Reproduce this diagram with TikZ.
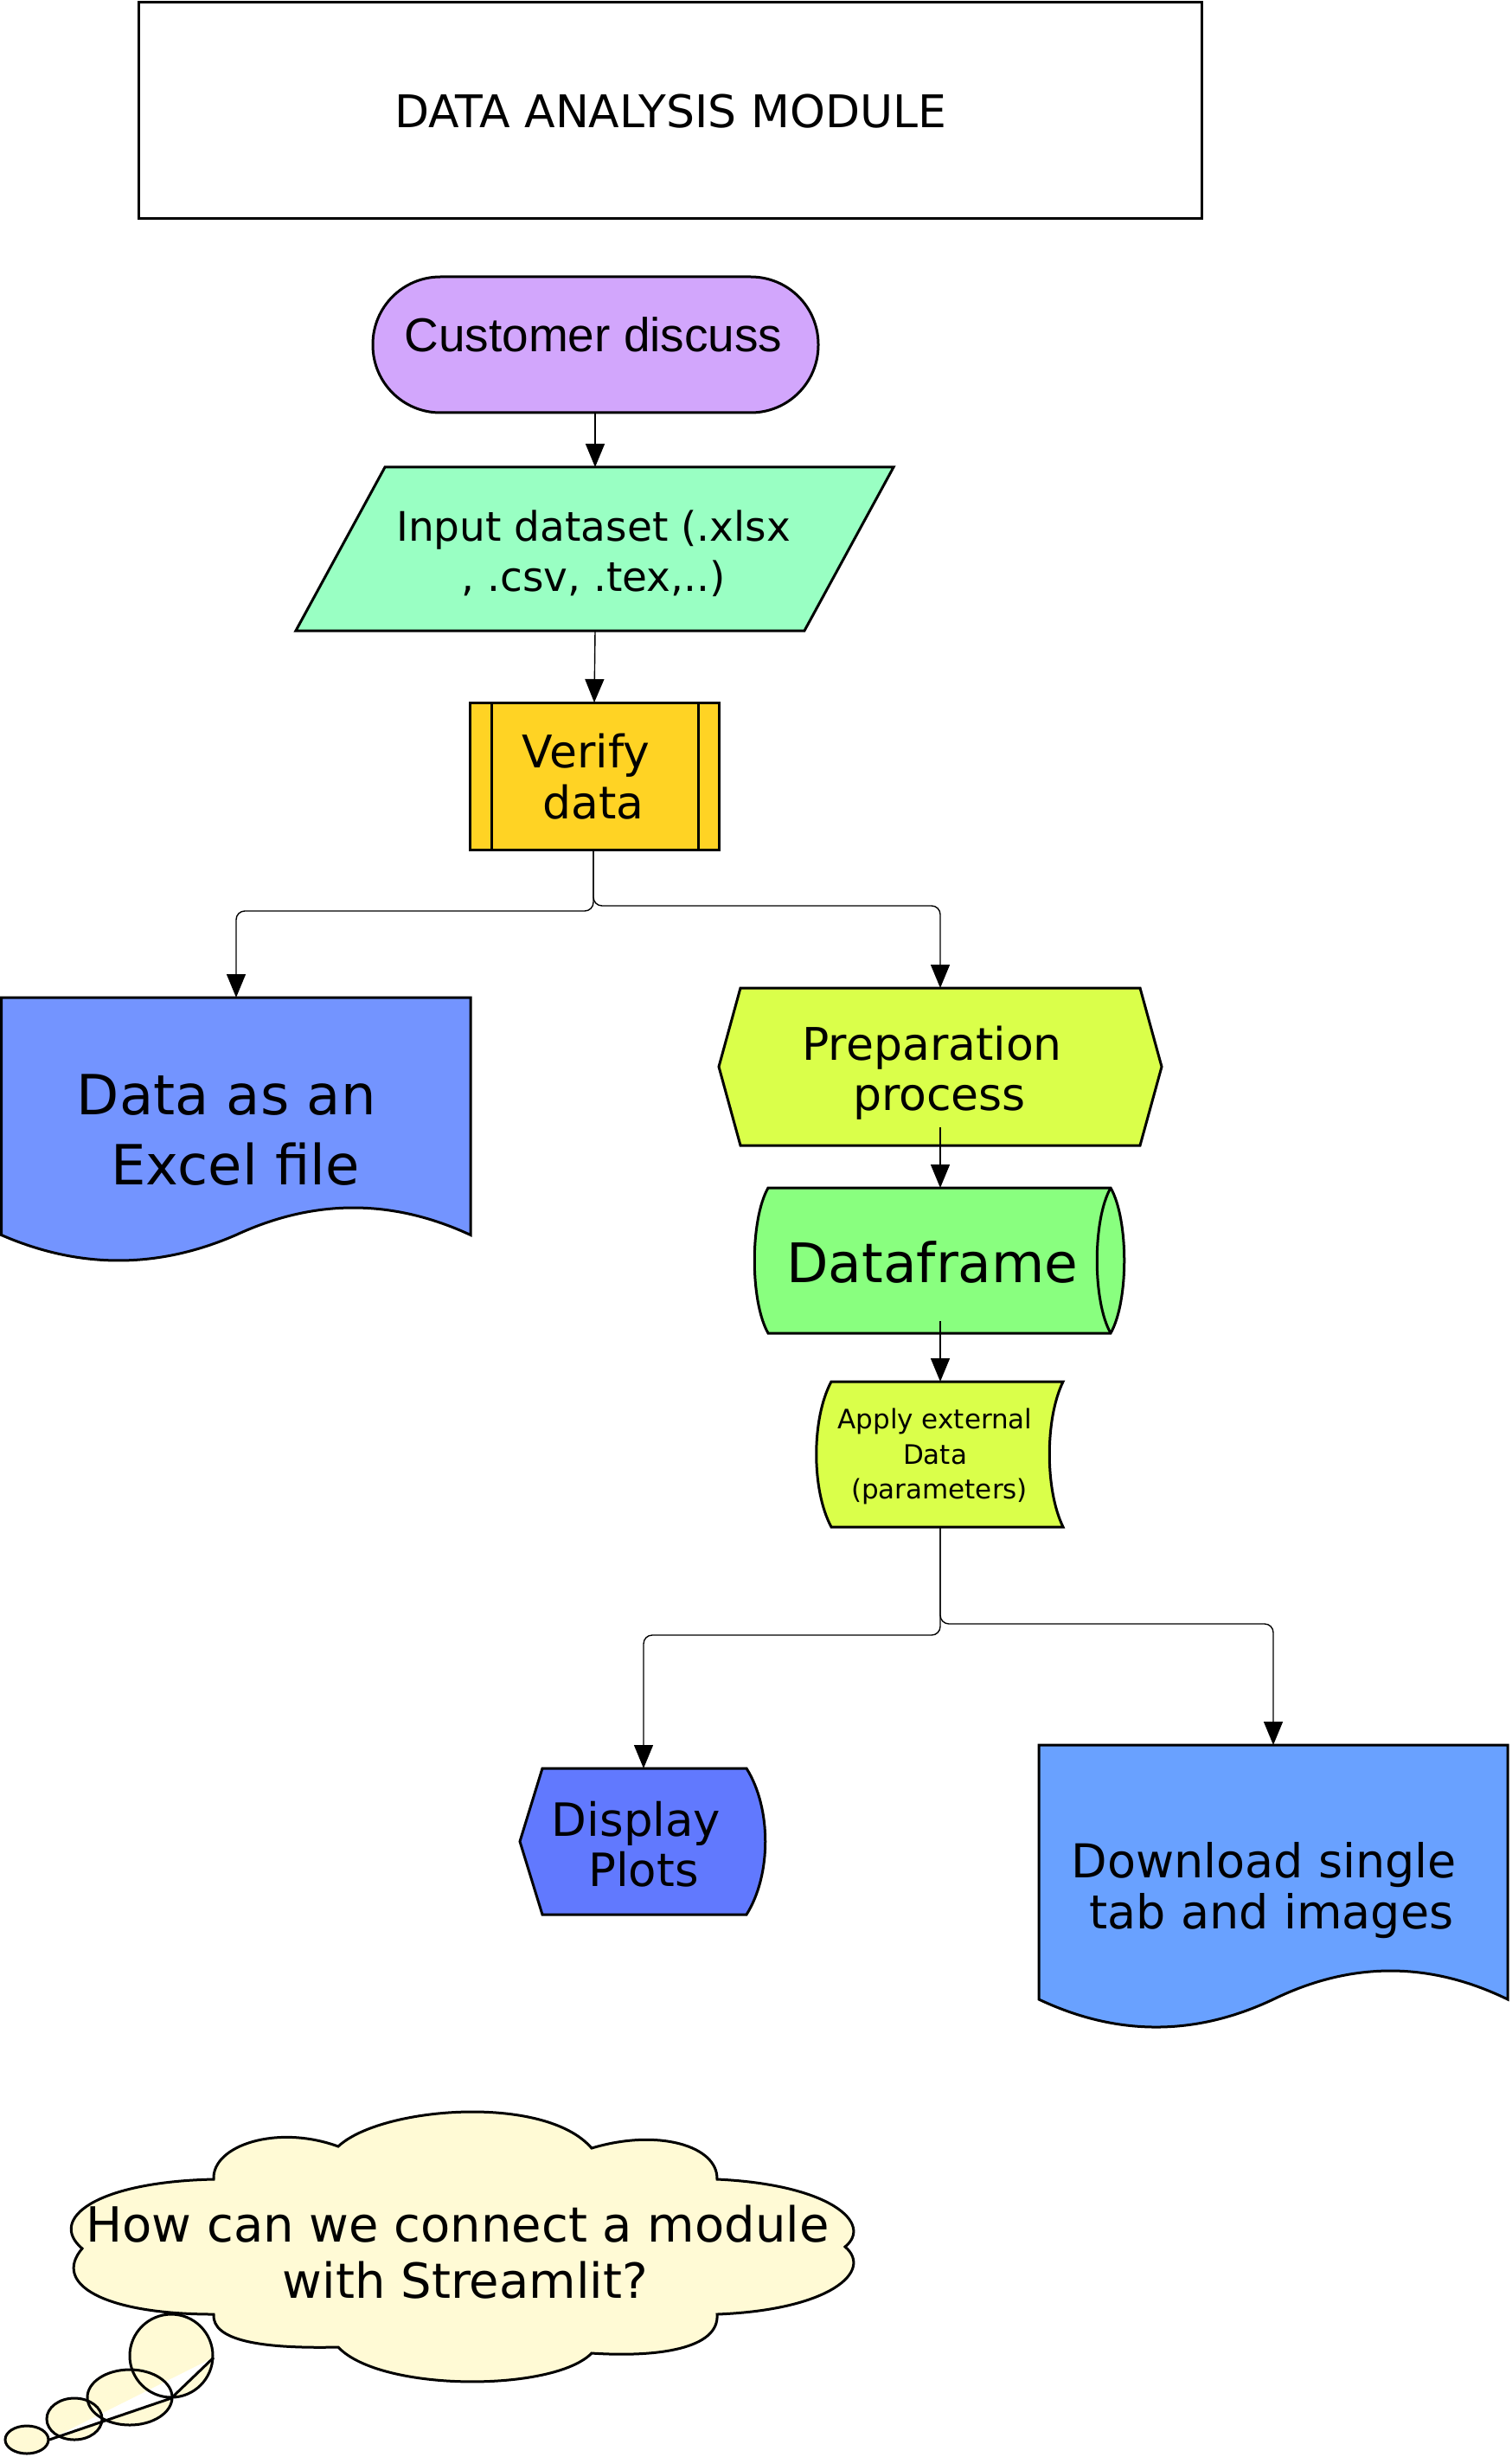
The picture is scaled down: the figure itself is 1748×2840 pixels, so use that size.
\documentclass[tikz,border=0pt]{standalone}
\usepackage{fontspec}
\setmainfont{DejaVu Sans}
\newfontfamily\helv{Liberation Sans}
\usetikzlibrary{arrows.meta}
\definecolor{cpurple}{HTML}{D2A6FC}
\definecolor{cmint}{HTML}{99FFC3}
\definecolor{cgold}{HTML}{FFD324}
\definecolor{cblueA}{HTML}{7394FF}
\definecolor{clime}{HTML}{DAFF4A}
\definecolor{cgreen}{HTML}{89FF7F}
\definecolor{cblueB}{HTML}{6179FE}
\definecolor{cblueC}{HTML}{69A1FF}
\definecolor{ccloud}{HTML}{FFFAD5}
\newcommand{\tsp}{\kern0.32em}
\begin{document}
\begin{tikzpicture}[x=0.5pt,y=-0.5pt,
  shp/.style={draw=black, line width=1.5pt, line join=miter},
  conn/.style={draw=black, line width=0.7pt, rounded corners=5pt, -{Triangle[length=13.5pt,width=11pt]}},
  lbl/.style={inner sep=0pt, align=center, text=black},
]
\useasboundingbox (0,0) rectangle (1748,2840);

% title
\draw[shp] (160,3) rectangle (1389,253);
\node[lbl, anchor=base, font=\fontsize{26}{31}\selectfont] (title) at (775,148) {DATA ANALYSIS MODULE};

% customer discuss
\draw[shp, fill=cpurple, rounded corners=39pt] (431,320) rectangle (946,477);
\node[lbl, anchor=base, font=\helv\fontsize{27.5}{33}\selectfont] (cust) at (686,407) {Customer discuss};

% input dataset
\draw[shp, fill=cmint] (445,540) -- (1033,540) -- (930,729) -- (342,729) -- cycle;
\node[lbl, font=\fontsize{23.5}{29}\selectfont] (inp) at (686,640) {Input dataset (.xlsx\\, .csv, .tex,..)};

% verify data
\draw[shp, fill=cgold] (543,812) rectangle (831,982);
\draw[shp] (568,812) -- (568,982);
\draw[shp] (807,812) -- (807,982);
\node[lbl, font=\fontsize{26}{29.5}\selectfont] (ver) at (686,898) {Verify\tsp\\data};

% data as an excel file
\draw[shp, fill=cblueA] (1.5,1153) -- (544,1153) -- (544,1427.5)
  .. controls (453.6,1385.5) and (363.2,1385.5) .. (272.75,1427.5)
  .. controls (182.3,1466.8) and (91.9,1466.8) .. (1.5,1427.5) -- cycle;
\node[lbl, font=\fontsize{32}{40.5}\selectfont] (xls) at (272,1306.6) {Data as an\tsp\\Excel file};

% preparation process
\draw[shp, fill=clime] (856,1142) -- (1318,1142) -- (1343,1233) -- (1318,1324) -- (856,1324) -- (831,1233) -- cycle;
\node[lbl, font=\fontsize{26}{29}\selectfont] (prep) at (1086,1239.7) {Preparation\tsp\\process};

% dataframe
\draw[shp, fill=cgreen] (888,1373) -- (1284,1373)
  .. controls (1305,1410) and (1305,1504) .. (1284,1541) -- (888,1541)
  .. controls (867,1504) and (867,1410) .. (888,1373) -- cycle;
\draw[shp] (1284,1373) .. controls (1263,1410) and (1263,1504) .. (1284,1541);
\node[lbl, anchor=base, font=\fontsize{31.5}{38}\selectfont] (df) at (1078,1482) {Dataframe};

% apply external data
\draw[shp, fill=clime] (961,1597) -- (1229,1597)
  .. controls (1208,1640) and (1208,1722) .. (1229,1765) -- (961,1765)
  .. controls (938,1722) and (938,1640) .. (961,1597) -- cycle;
\node[lbl, font=\fontsize{15.5}{20.25}\selectfont] (app) at (1086,1683.9) {Apply external\tsp\\Data\tsp\\(parameters)};

% display plots
\draw[shp, fill=cblueB] (627,2044) -- (863,2044)
  .. controls (892,2090) and (892,2167) .. (863,2213) -- (627,2213) -- (601,2128.5) -- cycle;
\node[lbl, font=\fontsize{26.5}{29}\selectfont] (disp) at (744,2132) {Display\tsp\\Plots};

% download
\draw[shp, fill=cblueC] (1201,2017) -- (1743,2017) -- (1743,2311)
  .. controls (1652.7,2267) and (1562.3,2267) .. (1472,2311)
  .. controls (1381.7,2353.7) and (1291.3,2353.7) .. (1201,2311) -- cycle;
\node[lbl, font=\fontsize{27}{29.5}\selectfont] (dl) at (1470,2184.6) {Download single\tsp\\tab and images};

% cloud
\draw[shp, fill=ccloud] (95,2599)
  .. controls (55,2565) and (110,2522) .. (247,2519)
  .. controls (245,2480) and (320,2455) .. (391,2481)
  .. controls (440,2435) and (630,2420) .. (684,2483)
  .. controls (760,2460) and (830,2480) .. (829,2519)
  .. controls (960,2525) and (1010,2570) .. (977,2597)
  .. controls (1010,2625) and (960,2670) .. (829,2675)
  .. controls (832,2715) and (760,2725) .. (684,2720)
  .. controls (640,2765) and (440,2765) .. (391,2713)
  .. controls (300,2715) and (245,2705) .. (247,2675)
  .. controls (120,2675) and (60,2640) .. (95,2599) -- cycle;
\node[lbl, font=\fontsize{28}{32.5}\selectfont] (cloud) at (538,2603) {How can we connect a module\tsp\\with Streamlit?};

% thought bubbles
\fill[ccloud] (198,2723) ellipse[x radius=48, y radius=48];
\fill[ccloud] (150,2771) ellipse[x radius=49, y radius=32];
\fill[ccloud] (86,2796) ellipse[x radius=32, y radius=24];
\fill[ccloud] (31,2820) ellipse[x radius=25, y radius=16];
\fill[white] (247,2725) -- (198,2772) -- (57,2820) -- (67,2815) -- cycle;
\draw[shp] (198,2723) ellipse[x radius=48, y radius=48];
\draw[shp] (150,2771) ellipse[x radius=49, y radius=32];
\draw[shp] (86,2796) ellipse[x radius=32, y radius=24];
\draw[shp] (31,2820) ellipse[x radius=25, y radius=16];
\coordinate (tailA) at (247,2725);
\coordinate (tailB) at (198,2772);
\coordinate (tailC) at (57,2820);
\draw[shp, line join=round] (tailA) -- (tailB) -- (tailC);

% connector endpoints
\coordinate (custS) at (688,477);
\coordinate (inpN) at (688,540);
\coordinate (inpS) at (688,729);
\coordinate (verN) at (687,812);
\coordinate (verS) at (686,982);
\coordinate (xlsN) at (273,1153);
\coordinate (prepN) at (1087,1142);
\coordinate (prepI) at (1087,1303);
\coordinate (dfN) at (1087,1373);
\coordinate (dfI) at (1087,1527);
\coordinate (appN) at (1087,1597);
\coordinate (appS) at (1087,1765);
\coordinate (dispN) at (744,2044);
\coordinate (dlN) at (1472,2017);

\draw[conn] (custS) -- (inpN);
\draw[conn] (inpS) -- (verN);
\draw[conn] (verS) -- (686,1053) -- (273,1053) -- (xlsN);
\draw[conn] (verS) -- (686,1047) -- (1087,1047) -- (prepN);
\draw[conn] (prepI) -- (dfN);
\draw[conn] (dfI) -- (appN);
\draw[conn] (appS) -- (1087,1890) -- (744,1890) -- (dispN);
\draw[conn] (appS) -- (1087,1877) -- (1472,1877) -- (dlN);
\end{tikzpicture}
\end{document}
